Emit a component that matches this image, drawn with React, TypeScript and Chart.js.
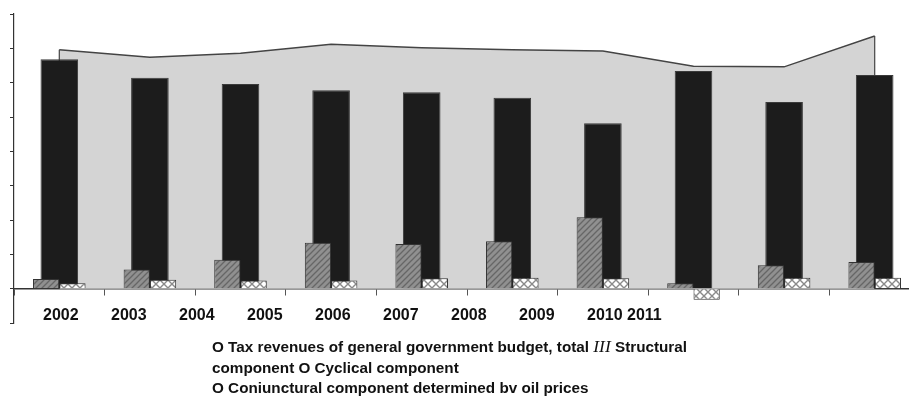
import React, { useEffect, useRef } from 'react';
import { Chart, registerables } from 'chart.js';

Chart.register(...registerables);

// ---- data ----
const categories = ['2002', '2003', '2004', '2005', '2006', '2007', '2008', '2009', '2010', '2011'];
const totalRevenue = [34.8, 33.7, 34.3, 35.6, 35.1, 34.8, 34.6, 32.4, 32.3, 36.8];
const structural = [33.4, 30.7, 29.8, 28.9, 28.6, 27.8, 24.1, 31.7, 27.2, 31.1];
const cyclical = [1.4, 2.8, 4.2, 6.7, 6.5, 6.9, 10.4, 0.8, 3.4, 3.9];
const oilComponent = [0.8, 1.3, 1.2, 1.2, 1.5, 1.6, 1.5, -1.6, 1.6, 1.6];
const yearLabels = ['2002', '2003', '2004', '2005', '2006', '2007', '2008', '2009', '2010 2011'];
const yMin = -5;
const yMax = 40;
const yStep = 5;

const SANS = "'Liberation Sans', Arial, sans-serif";

function makeHatch(): CanvasPattern | string {
  const c = document.createElement('canvas');
  c.width = 6;
  c.height = 6;
  const g = c.getContext('2d');
  if (!g) return '#8c8c8c';
  g.fillStyle = '#909090';
  g.fillRect(0, 0, 6, 6);
  g.strokeStyle = '#666666';
  g.lineWidth = 1.3;
  g.beginPath();
  g.moveTo(0, 6); g.lineTo(6, 0);
  g.moveTo(-3, 3); g.lineTo(3, -3);
  g.moveTo(3, 9); g.lineTo(9, 3);
  g.stroke();
  return g.createPattern(c, 'repeat') || '#8c8c8c';
}

function makeCross(): CanvasPattern | string {
  const c = document.createElement('canvas');
  c.width = 8;
  c.height = 8;
  const g = c.getContext('2d');
  if (!g) return '#eeeeee';
  g.fillStyle = '#ffffff';
  g.fillRect(0, 0, 8, 8);
  g.strokeStyle = '#8a8a8a';
  g.lineWidth = 1.4;
  g.beginPath();
  g.moveTo(0, 0); g.lineTo(8, 8);
  g.moveTo(8, 0); g.lineTo(0, 8);
  g.stroke();
  return g.createPattern(c, 'repeat') || '#eeeeee';
}

const areaEdges = {
  id: 'areaEdges',
  afterDatasetDraw(chart: any, args: any) {
    if (args.index !== 0) return;
    const pts = args.meta.data;
    if (!pts || !pts.length) return;
    const y0 = chart.scales.y.getPixelForValue(0);
    const ctx = chart.ctx;
    ctx.save();
    ctx.strokeStyle = '#444444';
    ctx.lineWidth = 1.2;
    ctx.beginPath();
    const first = pts[0];
    const last = pts[pts.length - 1];
    ctx.moveTo(first.x, first.y); ctx.lineTo(first.x, y0);
    ctx.moveTo(last.x, last.y); ctx.lineTo(last.x, y0);
    ctx.stroke();
    ctx.restore();
  },
};

export default function App() {
  const ref = useRef<HTMLCanvasElement>(null);

  useEffect(() => {
    if (!ref.current) return;
    const chart = new Chart(ref.current, {
      type: 'bar',
      data: {
        labels: categories,
        datasets: [
          {
            type: 'line',
            label: 'Tax revenues of general government budget, total',
            data: totalRevenue,
            fill: 'origin',
            backgroundColor: '#d4d4d4',
            borderColor: '#444444',
            borderWidth: 1.5,
            pointRadius: 0,
            tension: 0,
            order: 3,
          } as any,
          {
            type: 'bar',
            label: 'Structural component',
            data: structural,
            backgroundColor: '#1c1c1c',
            borderColor: '#3a3a3a',
            borderWidth: 1,
            grouped: false,
            categoryPercentage: 1,
            barPercentage: 0.415,
            order: 2,
          } as any,
          {
            type: 'bar',
            label: 'Cyclical component',
            data: cyclical,
            backgroundColor: makeHatch(),
            borderColor: '#333333',
            borderWidth: 1,
            categoryPercentage: 0.58,
            barPercentage: 1,
            order: 0,
          } as any,
          {
            type: 'bar',
            label: 'Conjunctural component determined by oil prices',
            data: oilComponent,
            backgroundColor: makeCross(),
            borderColor: '#333333',
            borderWidth: 1,
            categoryPercentage: 0.58,
            barPercentage: 1,
            order: 1,
          } as any,
        ],
      },
      options: {
        animation: false,
        responsive: true,
        maintainAspectRatio: false,
        layout: { padding: { left: 0, right: 10, top: 14, bottom: 75 } },
        plugins: {
          legend: { display: false },
          tooltip: { enabled: false },
        },
        scales: {
          x: {
            type: 'category',
            position: { y: 0 } as any,
            offset: true,
            z: 1,
            grid: {
              offset: true,
              drawOnChartArea: false,
              drawTicks: true,
              tickLength: 6,
              color: '#555555',
              lineWidth: 1,
            },
            border: { display: true, color: '#333333', width: 1.5 },
            ticks: { display: false },
          },
          xl: {
            type: 'linear',
            axis: 'x',
            position: { y: 0 } as any,
            offset: false,
            min: -0.4265,
            max: 12.897,
            afterBuildTicks: (s: any) => {
              s.ticks = yearLabels.map((_, i) => ({ value: i }));
            },
            grid: { display: false, drawTicks: false, offset: false },
            border: { display: false },
            ticks: {
              align: 'start',
              padding: 17,
              autoSkip: false,
              maxRotation: 0,
              minRotation: 0,
              color: '#111111',
              font: { family: SANS, size: 16, weight: 'bold' },
              callback: (_v: any, i: number) => yearLabels[i],
            },
          } as any,
          y: {
            min: yMin,
            max: yMax,
            afterFit: (s: any) => { s.width = 14; },
            ticks: { stepSize: yStep, display: false },
            grid: {
              drawOnChartArea: false,
              drawTicks: true,
              tickLength: 4,
              color: '#333333',
            },
            border: { display: true, color: '#333333', width: 1.2 },
          },
        },
      },
      plugins: [areaEdges],
    });
    return () => chart.destroy();
  }, []);

  const legendStyle: React.CSSProperties = {
    position: 'absolute',
    left: 212,
    top: 337,
    fontFamily: SANS,
    fontWeight: 'bold',
    fontSize: 14,
    lineHeight: '20.5px',
    color: '#111111',
    whiteSpace: 'nowrap',
    transform: 'scaleX(1.09)',
    transformOrigin: '0 0',
  };

  return (
    <div
      style={{
        position: 'fixed',
        left: 0,
        top: 0,
        width: 909,
        height: 398,
        overflow: 'hidden',
        background: '#ffffff',
      }}
    >
      <div style={{ position: 'absolute', left: 0, top: 0, width: 930, height: 398 }}>
        <canvas ref={ref} />
      </div>
      <div style={legendStyle}>
        <div>
          O Tax revenues of general government budget, total{' '}
          <span style={{ fontFamily: "'Liberation Serif', 'DejaVu Serif', serif", fontStyle: 'italic', fontWeight: 'normal', fontSize: 16 }}>III</span>{' '}
          Structural
        </div>
        <div>component O Cyclical component</div>
        <div>O Coniunctural component determined bv oil prices</div>
      </div>
    </div>
  );
}
